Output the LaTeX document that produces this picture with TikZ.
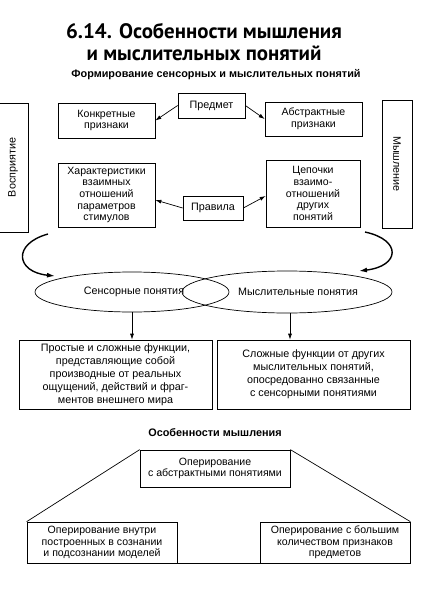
\documentclass[tikz,border=0pt]{standalone}
\usepackage{fontspec}
\setmainfont{Liberation Sans}
\newfontfamily\titlefont{PT Sans}
\usetikzlibrary{shapes.geometric,arrows.meta}
\tikzset{
	box/.style={draw=black, line width=0.7pt, rectangle, align=center, inner sep=1bp,
		font=\fontsize{10.8}{13}\selectfont},
	tight/.style={font=\fontsize{10.6}{11.6}\selectfont},
	concept/.style={draw=black, line width=0.7pt, ellipse, inner sep=0pt},
	link/.style={line width=0.7pt, -{Latex[length=6bp,width=4bp]}},
	curvearrow/.style={line width=1.4pt, -{Latex[length=8bp,width=5bp]}},
	heading/.style={font=\bfseries\fontsize{10.9}{12}\selectfont}
}
\begin{document}
\begin{tikzpicture}[x=1bp,y=-1bp]
	\useasboundingbox (0,0) rectangle (426,614);

	% titles
	\node[align=center, font=\titlefont\bfseries\fontsize{21}{21.5}\selectfont] (title) at (204,42)
		{6.14. Особенности мышления\\и мыслительных понятий};
	\node[heading] (sub) at (216,75) {Формирование сенсорных и мыслительных понятий};

	% side boxes
	\node[box, rotate=90, minimum width=129bp, minimum height=30bp] (vosp) at (13,167.5) {Восприятие};
	\node[box, rotate=-90, minimum width=128bp, minimum height=30bp] (mysh) at (397,164) {Мышление};

	% upper row
	\node[box, tight, minimum width=97bp, minimum height=35bp] (konk) at (106.5,120.5) {Конкретные\\признаки};
	\node[box, minimum width=67bp, minimum height=25bp] (predmet) at (211.5,105.5) {Предмет};
	\node[box, tight, minimum width=97bp, minimum height=34bp] (abstr) at (313.5,119) {Абстрактные\\признаки};
	\draw[link] (predmet.west) -- (konk.east);
	\draw[link] (predmet.east) -- (abstr.west);

	% lower row
	\node[box, tight, minimum width=97bp, minimum height=64bp] (harakt) at (106.5,195)
		{Характеристики\\взаимных\\отношений\\параметров\\стимулов};
	\node[box, minimum width=60bp, minimum height=24bp] (pravila) at (213,208) {Правила};
	\node[box, tight, minimum width=94bp, minimum height=67bp] (cep) at (313,193.5)
		{Цепочки\\взаимо-\\отношений\\других\\понятий};
	\draw[link] (pravila.west) -- (harakt.east |- 0,200);
	\draw[link] (pravila.east) -- (cep.west |- 0,196);

	% concepts
	\node[concept, minimum width=194bp, minimum height=40bp] (sens) at (132,292) {};
	\node[concept, minimum width=210bp, minimum height=42bp] (mysl) at (287,292) {};
	\node[font=\fontsize{10.8}{13}\selectfont] (sensT) at (134,292) {Сенсорные понятия};
	\node[font=\fontsize{10.8}{13}\selectfont] (myslT) at (298,292) {Мыслительные понятия};

	% curved arrows
	\coordinate (lstart) at (48,234);
	\coordinate (lend) at (55,276);
	\coordinate (rstart) at (365,232);
	\coordinate (rend) at (359,271);
	\draw[curvearrow] (lstart) .. controls (12,244) and (16,272) .. (lend);
	\draw[curvearrow] (rstart) .. controls (402,240) and (400,266) .. (rend);

	% functions
	\node[box, minimum width=193bp, minimum height=69bp] (fun1) at (115.5,374.5)
		{Простые и сложные функции,\\представляющие собой\\производные от реальных\\ощущений, действий и фраг-\\ментов внешнего мира};
	\node[box, minimum width=193bp, minimum height=69bp] (fun2) at (313.5,374.5)
		{Сложные функции от других\\мыслительных понятий,\\опосредованно связанные\\с сенсорными понятиями};
	\draw[link] (sens.south) -- (fun1.north -| sens.south);
	\draw[link] (290,313) -- (fun2.north -| 290,0);

	% features
	\node[heading] (feat) at (215,433) {Особенности мышления};
	\node[box, tight, minimum width=150bp, minimum height=37bp] (oper) at (215,468.5)
		{Оперирование\\с абстрактными понятиями};
	\node[box, tight, minimum width=150bp, minimum height=41bp] (inner) at (102,542.5)
		{Оперирование внутри\\построенных в сознании\\и подсознании моделей};
	\node[box, tight, minimum width=150bp, minimum height=41bp] (many) at (335,542.5)
		{Оперирование с большим\\количеством признаков\\предметов};
	\draw[line width=0.7pt] (oper.north west) -- (inner.north west);
	\draw[line width=0.7pt] (oper.north east) -- (many.north east);
	\draw[line width=0.7pt] (inner.south east) -- (many.south west);
\end{tikzpicture}
\end{document}
